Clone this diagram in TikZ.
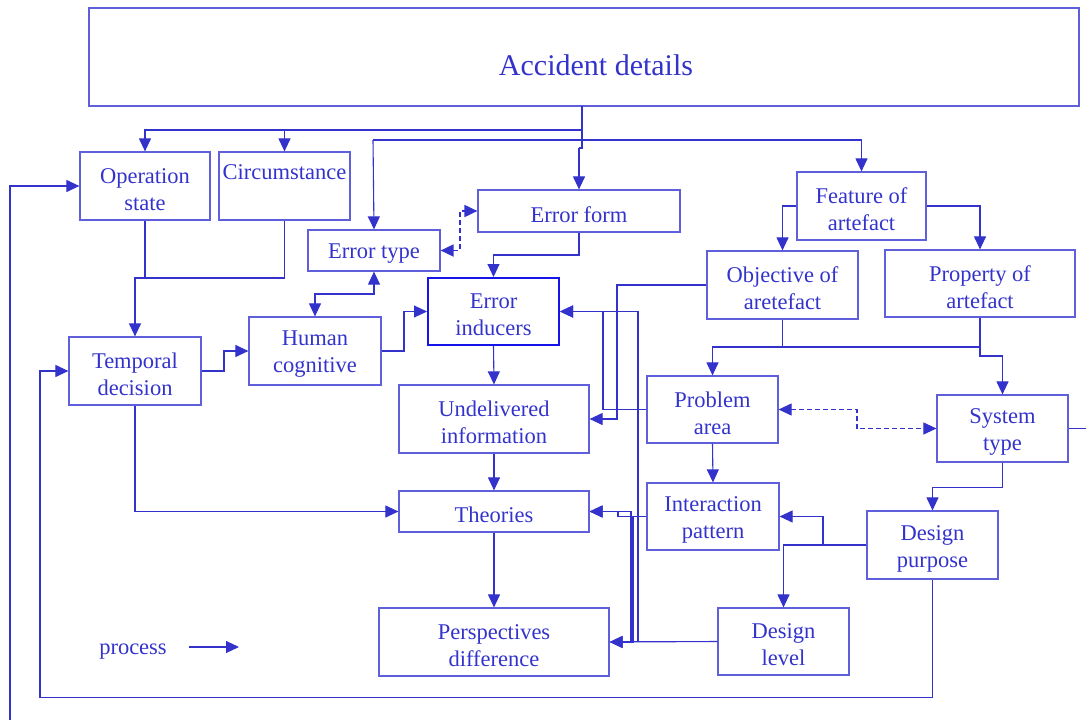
\documentclass[tikz,border=0pt]{standalone}
\usepackage{fontspec}
\setmainfont{Liberation Serif}
\usetikzlibrary{arrows.meta}
\definecolor{inkc}{RGB}{51,51,204}
\definecolor{boxc}{RGB}{95,95,220}
\definecolor{hotc}{RGB}{20,20,235}
\newcommand{\labelfont}{\fontsize{22.5}{27}\selectfont}
\newcommand{\titlefont}{\fontsize{30}{36}\selectfont}
\tikzset{
  box/.style={draw=boxc, line width=1.2pt, inner sep=0pt},
  boxtext/.style={inner sep=0pt, align=center, text=inkc, font=\labelfont},
  link/.style={draw=inkc, line width=1.1pt},
  arrow/.style={link, -{Triangle[length=13pt,width=12pt]}},
  twoway/.style={link, {Triangle[length=13pt,width=12pt]}-{Triangle[length=13pt,width=12pt]}},
  dashlink/.style={twoway, dash pattern=on 5pt off 3pt},
}
% frame node #1 at #2 of size #3 x #4, with its label #6 set slightly low; #5 = extra frame options
\newcommand{\mkbox}[6][]{%
  \node[box, minimum width=#4pt, minimum height=#5pt, #1] (#2) at #3 {};
  \node[boxtext] (#2-t) at ([yshift=-3.5pt]#2.center) {#6};}
\begin{document}
\begin{tikzpicture}[x=1pt,y=-1pt]
\useasboundingbox (0,0) rectangle (1086,720);

% boxes
\node[box, minimum width=990pt, minimum height=98pt] (acc) at (584,57) {};
\node[text=inkc, font=\titlefont] (acctitle) at (596,65) {Accident details};
\mkbox{op}{(145,186)}{130}{68}{Operation\\state}
\mkbox{circ}{(284.5,186)}{131}{68}{Circumstance\\\strut}
\mkbox{etype}{(374,250.5)}{132}{41}{Error type}
\mkbox{eform}{(579,211)}{202}{42}{Error form}
\mkbox[draw=hotc, line width=2pt]{einduc}{(493.5,311.5)}{131}{67}{Error\\inducers}
\mkbox{human}{(315,351)}{132}{68}{Human\\cognitive}
\mkbox{temp}{(135,371)}{132}{68}{Temporal\\decision}
\mkbox{undel}{(494,419)}{190}{68}{Undelivered\\information}
\mkbox{theo}{(494,511.5)}{190}{41}{Theories}
\mkbox{persp}{(494,642)}{230}{68}{Perspectives\\difference}
\mkbox{feat}{(861.5,206)}{129}{68}{Feature of\\artefact}
\mkbox{obj}{(782.5,285)}{151}{68}{Objective of\\aretefact}
\mkbox{prop}{(980,283.5)}{190}{67}{Property of\\artefact}
\mkbox{prob}{(712.5,409.5)}{131}{67}{Problem\\area}
\mkbox{sys}{(1002.5,428.5)}{131}{67}{System\\type}
\mkbox{inter}{(713,516.5)}{132}{67}{Interaction\\pattern}
\mkbox{dpur}{(932.5,545)}{131}{68}{Design\\purpose}
\mkbox{dlev}{(783.5,641.5)}{131}{67}{Design\\level}

% junctions
\coordinate (trunk) at (582,106);
\coordinate (jop) at (582,130);
\coordinate (jerr) at (582,140);
\coordinate (jtemp) at (135,278);
\coordinate (jart) at (782.5,347);
\coordinate (loopin) at (10,720);
\coordinate (loopout) at (1086,428.5);

% accident details fan-out
\draw[link] (trunk) -- (582,148) -- (579,148);
\draw[arrow] (579,148) -- (eform.north);
\draw[arrow] (jop) -| (op.north);
\draw[arrow] (284.5,130) -- (circ.north);
\draw[arrow] (373,140) -- (etype.north);
\draw[link] (373,140) -- (jerr);
\draw[arrow] (jerr) -| (feat.north);

% left column
\draw[link] (op.south) -- (op.south |- jtemp);
\draw[arrow] (circ.south) |- (jtemp) -- (temp.north);
\draw[arrow] (temp.east) -- (224,371) |- (human.west);
\draw[twoway] (human.north) |- (374,294) -- (etype.south);
\draw[dashlink, line width=1.8pt] (etype.east) -- (460,250.5) |- (eform.west);
\draw[arrow] (eform.south) -- (579,255) -| (einduc.north);
\draw[arrow] (human.east) -- (404,351) |- (einduc.west);
\draw[arrow] (einduc.south) -- (undel.north);
\draw[arrow] (undel.south) -- (theo.north);
\draw[arrow] (theo.south) -- (persp.north);
\draw[arrow] (temp.south) |- (theo.west);

% artefact side
\draw[arrow] (feat.west) -| (obj.north);
\draw[arrow] (feat.east) -| (prop.north);
\draw[arrow] (obj.south) -- (jart) -| (prob.north);
\draw[link] (jart) -- (980,347);
\draw[arrow] (prop.south) -- (980,356) -| (sys.north);
\draw[dashlink] (prob.east) -- (857,409.5) |- (sys.west);
\draw[arrow] (prob.south) -- (inter.north);
\draw[arrow] (sys.south) -- (1002.5,487.5) -| (dpur.north);
\draw[arrow] (dpur.west) -| (dlev.north);
\draw[arrow] (823,545) |- (inter.east);

% feedback into the error chain
\draw[arrow] (obj.west) -- (617,285) |- (undel.east);
\draw[arrow] (prob.west) -- (603,409.5) |- (einduc.east);
\draw[arrow] (dlev.west) -- (persp.east);
\draw[arrow] (dlev.west) -- (638,641.5) |- (einduc.east);
\draw[arrow] (dlev.west) -- (631,641.5) |- (theo.east);
\draw[arrow] (inter.west) -- (618,516.5) |- (theo.east);
\draw[arrow] (inter.west) -- (633,516.5) |- (persp.east);

% outer loops
\draw[arrow] (dpur.south) |- (40,697.5) |- (temp.west);
\draw[arrow] (loopin) |- (op.west);
\draw[link] (sys.east) -- (loopout);

% legend
\node[text=inkc, font=\labelfont] (proc) at (133,652) {process};
\coordinate (procend) at (239,647);
\draw[arrow] (189,647) -- (procend);
\end{tikzpicture}
\end{document}
